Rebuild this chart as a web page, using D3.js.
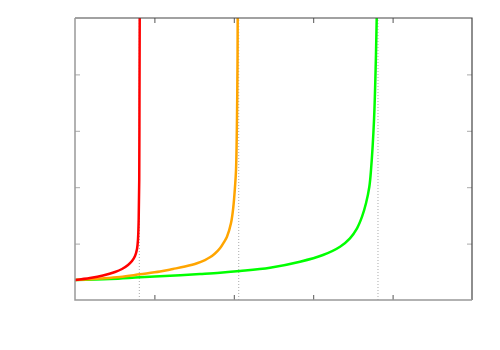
<!DOCTYPE html>
<html>
<head>
<meta charset="utf-8">
<script src="https://cdn.jsdelivr.net/npm/d3@7"></script>
<style>
	body { margin: 0; background: #fff; }
	svg { display: block; }
</style>
</head>
<body>
<div id="graphic"></div>
<script>
// curve points, [x, y] in data units
var redCurve = [[0, 0.355], [0.189, 0.39], [0.353, 0.434], [0.504, 0.496], [0.592, 0.55], [0.668, 0.621],
	[0.718, 0.691], [0.756, 0.78], [0.781, 0.904], [0.793, 1.064], [0.802, 1.418], [0.809, 2.128],
	[0.812, 3.546], [0.815, 5.0], [0.816, 5.3]];
var orangeCurve = [[0, 0.355], [0.315, 0.381], [0.567, 0.408], [0.819, 0.456], [1.071, 0.505], [1.234, 0.55],
	[1.385, 0.594], [1.537, 0.651], [1.637, 0.709], [1.7, 0.757], [1.763, 0.824], [1.826, 0.917],
	[1.877, 1.028], [1.914, 1.122], [1.965, 1.365], [1.994, 1.649], [2.015, 2.004], [2.028, 2.305],
	[2.04, 3.191], [2.047, 4.255], [2.049, 5.0], [2.05, 5.3]];
var greenCurve = [[0, 0.355], [0.441, 0.372], [0.819, 0.402], [1.196, 0.429], [1.574, 0.461], [1.826, 0.484],
	[2.078, 0.514], [2.456, 0.573], [2.834, 0.679], [3.123, 0.798], [3.338, 0.945], [3.463, 1.094],
	[3.552, 1.271], [3.615, 1.477], [3.665, 1.715], [3.707, 2.009], [3.728, 2.305], [3.766, 3.191],
	[3.789, 4.255], [3.8, 5.0], [3.801, 5.3]];
var asymptotes = [0.81, 2.062, 3.816];
var xTicks = [1, 2, 3, 4];
var yTicks = [1, 2, 3, 4];

var width = 500, height = 350;
var margin = { top: 18, right: 28, bottom: 50, left: 75 };
var w = width - margin.left - margin.right;
var h = height - margin.top - margin.bottom;

var x = d3.scaleLinear().domain([0, 5]).range([0, w]);
var y = d3.scaleLinear().domain([0, 5]).range([h, 0]);

var svg = d3.select('#graphic')
	.append('svg')
	.attr('width', width)
	.attr('height', height)
	.append('g')
	.attr('transform', 'translate(' + margin.left + ',' + margin.top + ')');

svg.append('clipPath')
	.attr('id', 'plot-clip')
	.append('rect')
	.attr('width', w)
	.attr('height', h);

// dotted asymptote lines
svg.selectAll('line.asym')
	.data(asymptotes)
	.join('line')
	.attr('class', 'asym')
	.attr('x1', (d) => x(d))
	.attr('x2', (d) => x(d))
	.attr('y1', y(0))
	.attr('y2', y(5))
	.attr('stroke', '#aaa')
	.attr('stroke-width', 1)
	.attr('stroke-dasharray', '1,2');

// ticks, drawn inward on all four sides
svg.append('g')
	.attr('transform', 'translate(0,' + h + ')')
	.call(d3.axisBottom(x).tickValues(xTicks).tickSize(-5).tickFormat(''))
	.call((g) => g.select('.domain').remove())
	.selectAll('line').attr('stroke', '#555');
svg.append('g')
	.call(d3.axisTop(x).tickValues(xTicks).tickSize(-5).tickFormat(''))
	.call((g) => g.select('.domain').remove())
	.selectAll('line').attr('stroke', '#555');
svg.append('g')
	.call(d3.axisLeft(y).tickValues(yTicks).tickSize(-5).tickFormat(''))
	.call((g) => g.select('.domain').remove())
	.selectAll('line').attr('stroke', '#aaa');
svg.append('g')
	.attr('transform', 'translate(' + w + ',0)')
	.call(d3.axisRight(y).tickValues(yTicks).tickSize(-5).tickFormat(''))
	.call((g) => g.select('.domain').remove())
	.selectAll('line').attr('stroke', '#aaa');

var line = d3.line()
	.x((d) => x(d[0]))
	.y((d) => y(d[1]))
	.curve(d3.curveCatmullRom.alpha(0.5));

var curves = [
	{ pts: greenCurve, colour: '#00ff00' },
	{ pts: orangeCurve, colour: '#ffa500' },
	{ pts: redCurve, colour: '#ff0000' }
];

svg.append('g')
	.attr('clip-path', 'url(#plot-clip)')
	.selectAll('path')
	.data(curves)
	.join('path')
	.attr('d', (d) => line(d.pts))
	.attr('fill', 'none')
	.attr('stroke', (d) => d.colour)
	.attr('stroke-width', 2.5);

// border
svg.append('path')
	.attr('d', 'M0,0H' + w + 'V' + h)
	.attr('fill', 'none')
	.attr('stroke', '#444')
	.attr('stroke-width', 1.2);
svg.append('path')
	.attr('d', 'M0,0V' + h + 'H' + w)
	.attr('fill', 'none')
	.attr('stroke', '#999')
	.attr('stroke-width', 1.5);
</script>
</body>
</html>
